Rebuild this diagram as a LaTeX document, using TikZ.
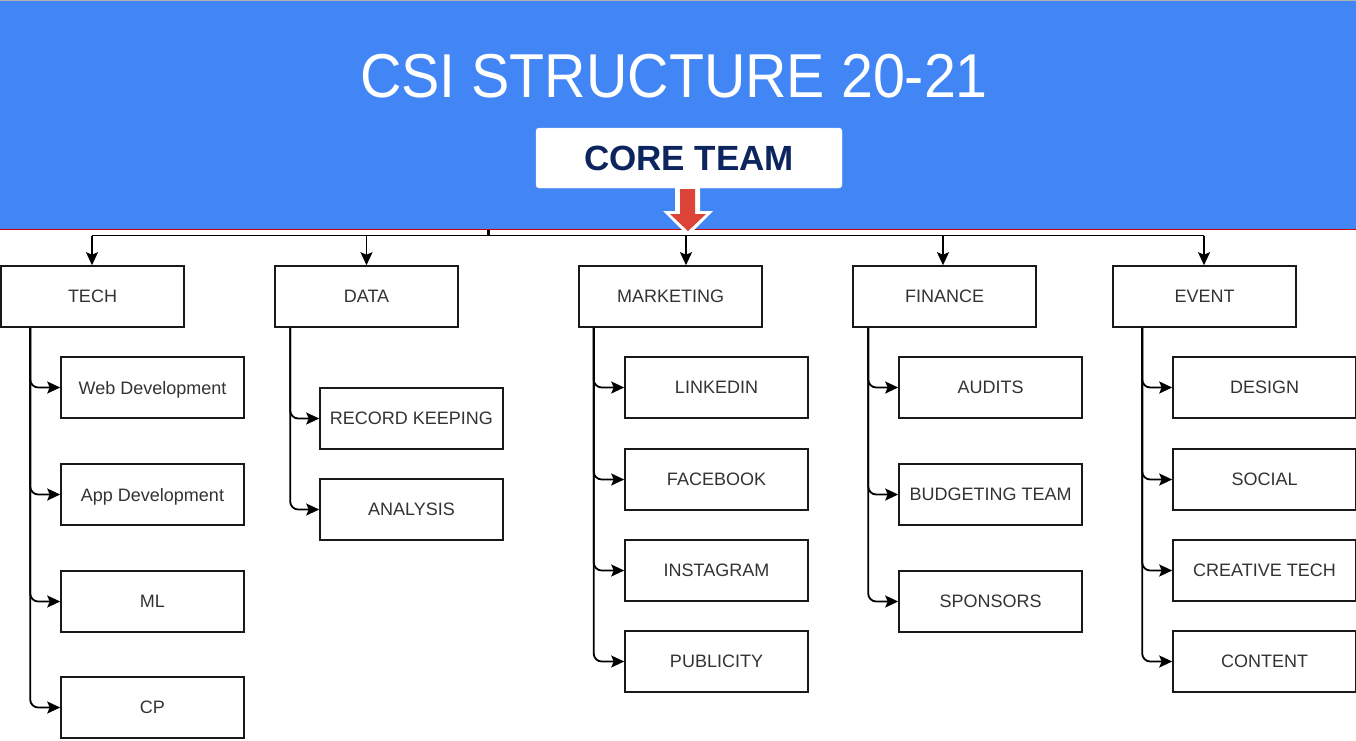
\documentclass[tikz,border=0pt]{standalone}
\usepackage{fontspec}
\usepackage{graphicx}
\setmainfont{Liberation Sans}
\usetikzlibrary{arrows.meta}
\definecolor{bandblue}{RGB}{66,134,245}
\definecolor{navy}{RGB}{12,37,94}
\definecolor{arrred}{RGB}{219,68,55}
\definecolor{linered}{RGB}{204,0,0}
\definecolor{txt}{RGB}{51,51,51}
\definecolor{edge}{RGB}{25,25,25}
\tikzset{tipd/.tip={Stealth[length=13pt,width=12pt,inset=2.5pt]}}
\begin{document}
\begin{tikzpicture}[x=1pt,y=-1pt,
  bx/.style={draw=edge,line width=1.6pt,fill=white,minimum width=183pt,minimum height=61pt,
    inner sep=0pt,text=txt,font=\fontsize{18}{20}\selectfont,text depth=-2.5pt},
  conn/.style={draw=black,line width=1.8pt,rounded corners=8pt,arrows={-tipd}},
  bline/.style={draw=black,line width=1.8pt}]
\useasboundingbox (0,0) rectangle (1356,740);
% header band
\fill[white] (0,0) rectangle (1356,740);
\fill[bandblue] (0,1) rectangle (1356,229);
\draw[black!30,line width=1pt] (0,0.5) -- (1356,0.5);
\draw[linered,line width=1.6pt] (0,229.5) -- (1356,229.5);
\node[text=white,font=\fontsize{62}{70}\selectfont,anchor=base] (title) at (674,97)
  {\scalebox{0.925}[1]{CSI STRUCTURE 20-21}};
\node[fill=white,draw=black!8,rounded corners=3pt,minimum width=306pt,minimum height=60pt,
  inner sep=0pt,text=navy,font=\fontsize{35}{40}\selectfont\bfseries] (core) at (689,158) {CORE TEAM};
% white-outlined red arrow
\fill[white] (675,183) -- (700,183) -- (700,211) -- (713,211) -- (688,236) -- (663,211) -- (675,211) -- cycle;
\fill[arrred] (680,189) -- (695,189) -- (695,214) -- (706,214) -- (688,231) -- (670,214) -- (680,214) -- cycle;
% top level boxes
\node[bx] (tech) at (92.5,296.5) {TECH};
\node[bx] (data) at (366.5,296.5) {DATA};
\node[bx] (mkt) at (670.5,296.5) {MARKETING};
\node[bx] (fin) at (944.5,296.5) {FINANCE};
\node[bx] (ev) at (1204.5,296.5) {EVENT};
% children
\node[bx] (web) at (152.5,387.5) {Web Development};
\node[bx] (app) at (152.5,494.5) {App Development};
\node[bx] (ml) at (152.5,601.5) {ML};
\node[bx] (cp) at (152.5,707.5) {CP};
\node[bx] (rk) at (411.5,418.5) {RECORD KEEPING};
\node[bx] (an) at (411.5,509.5) {ANALYSIS};
\node[bx] (li) at (716.5,387.5) {LINKEDIN};
\node[bx] (fb) at (716.5,479.5) {FACEBOOK};
\node[bx] (ig) at (716.5,570.5) {INSTAGRAM};
\node[bx] (pub) at (716.5,661.5) {PUBLICITY};
\node[bx] (au) at (990.5,387.5) {AUDITS};
\node[bx] (bt) at (990.5,494.5) {BUDGETING TEAM};
\node[bx] (sp) at (990.5,601.5) {SPONSORS};
\node[bx] (de) at (1264.5,387.5) {DESIGN};
\node[bx] (so) at (1264.5,479.5) {SOCIAL};
\node[bx] (ct) at (1264.5,570.5) {CREATIVE TECH};
\node[bx] (co) at (1264.5,661.5) {CONTENT};
% bus
\coordinate (bL) at (92,235.5);
\coordinate (bR) at (1204,235.5);
\coordinate (md) at (686,235.5);
\coordinate (fd) at (943,235.5);
\draw[bline] (bL) -- (bR);
\draw[black,line width=3pt] (488,230) -- (488,235.5);
\draw[conn] (bL) -- (bL |- tech.north);
\draw[conn] (data.north |- bL) -- (data.north);
\draw[conn] (md) -- (md |- mkt.north);
\draw[conn] (fd) -- (fd |- fin.north);
\draw[conn] (bR) -- (bR |- ev.north);
% branches
\foreach \c in {web,app,ml,cp} \draw[conn] ([xshift=30pt]tech.south west) |- (\c.west);
\foreach \c in {rk,an} \draw[conn] ([xshift=16pt]data.south west) |- (\c.west);
\foreach \c in {li,fb,ig,pub} \draw[conn] ([xshift=15.5pt]mkt.south west) |- (\c.west);
\foreach \c in {au,bt,sp} \draw[conn] ([xshift=16pt]fin.south west) |- (\c.west);
\foreach \c in {de,so,ct,co} \draw[conn] ([xshift=30pt]ev.south west) |- (\c.west);
\end{tikzpicture}
\end{document}
